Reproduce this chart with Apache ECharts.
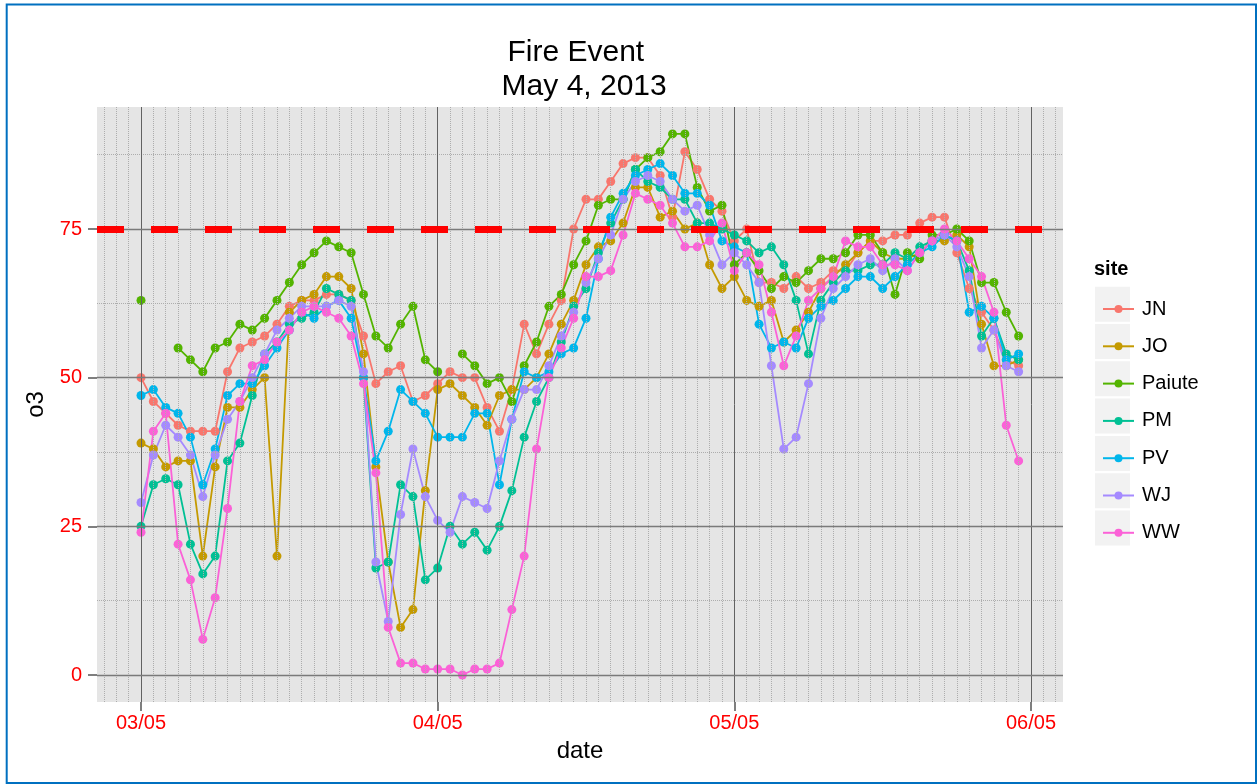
<!DOCTYPE html>
<html>
<head>
<meta charset="utf-8">
<title>Fire Event</title>
<script src="https://cdn.jsdelivr.net/npm/echarts@6/dist/echarts.min.js"></script>
<style>
    html, body { margin: 0; padding: 0; background: #fff; }
    #chart { width: 1257px; height: 784px; }
</style>
</head>
<body>
<div id="chart"></div>
<script>
(function() {
    'use strict';

    // hourly o3 per site, hour 0 = 03/05 00:00
    var sites = ['JN', 'JO', 'Paiute', 'PM', 'PV', 'WJ', 'WW'];
    var siteColors = ['#F8766D', '#C49A00', '#53B400', '#00C094', '#00B6EB', '#A58AFF', '#FB61D7'];

    var jn = [50, 46, 44, 42, 41, 41, 41, 51, 55, 56, 57, 59, 62, 63, 63, 64, 64, 63, 57, 49,
        51, 52, 46, 47, 49, 51, 50, 50, 45, 41, 48, 59, 54, 59, 63, 75, 80, 80, 83, 86,
        87, 87, 84, 77, 88, 85, 80, 78, 73, 75, 66, 66, 65, 67, 65, 66, 68, 68, 71, 73,
        73, 74, 74, 76, 77, 77, 71, 65, 61, 58, 53, 52];
    var jo = [39, 38, 35, 36, 36, 20, 35, 45, 45, 48, 50, 20, 61, 63, 64, 67, 67, 65, 54, 35,
        19, 8, 11, 31, 48, 49, 47, 45, 42, 47, 48, 48, 50, 54, 59, 63, 69, 72, 73, 76,
        82, 82, 77, 78, 75, 76, 69, 65, 67, 63, 62, 63, 56, 58, 61, 65, 67, 69, 71, 73,
        71, 70, 70, 71, 73, 73, 74, 72, 59, 52, 52, 53];
    var paiute = [63, null, null, 55, 53, 51, 55, 56, 59, 58, 60, 63, 66, 69, 71, 73, 72, 71, 64, 57,
        55, 59, 62, 53, 51, null, 54, 52, 49, 50, 46, 52, 56, 62, 64, 69, 73, 79, 80, 80,
        85, 87, 88, 91, 91, 82, 78, 79, 69, 71, 68, 65, 67, 66, 68, 70, 70, 71, 74, 74,
        71, 64, 71, 70, 74, 74, 75, 73, 66, 66, 61, 57];
    var pm = [25, 32, 33, 32, 22, 17, 20, 36, 39, 47, 54, 56, 59, 60, 61, 65, 64, 63, 50, 18,
        19, 32, 30, 16, 18, 25, 22, 24, 21, 25, 31, 40, 46, 50, 56, 62, 65, 71, 76, 80,
        85, 83, 82, 80, 80, 76, 76, 75, 74, 73, 71, 72, 69, 63, 54, 63, 66, 68, 68, 69,
        69, 71, 70, 72, 73, 74, 73, 68, 57, 60, 54, 53];
    var pv = [47, 48, 45, 44, 40, 32, 38, 47, 49, 49, 52, 55, 58, 61, 60, 62, 63, 60, 50, 36,
        41, 48, 46, 44, 40, 40, 40, 44, 44, 32, 43, 51, 50, 51, 54, 55, 60, 70, 77, 81,
        84, 85, 86, 84, 81, 81, 79, 73, 72, 71, 59, 55, 56, 55, 60, 62, 63, 65, 67, 67,
        65, 67, 69, 71, 72, 74, 73, 61, 62, 60, 53, 54];
    var wj = [29, 37, 42, 40, 37, 30, 37, 43, 46, 50, 54, 58, 60, 62, 62, 62, 63, 62, 51, 19,
        9, 27, 38, 30, 26, 24, 30, 29, 28, 36, 43, 48, 48, 52, 57, 61, 66, 70, 74, 80,
        83, 84, 83, 80, 78, 79, 74, 69, 71, 69, 66, 52, 38, 40, 49, 60, 65, 67, 69, 70,
        68, 70, 68, 71, 73, 74, 72, 67, 55, 58, 52, 51];
    var ww = [24, 41, 44, 22, 16, 6, 13, 28, 46, 52, 53, 56, 58, 61, 62, 61, 60, 57, 49, 34,
        8, 2, 2, 1, 1, 1, 0, 1, 1, 2, 11, 20, 38, 50, 55, 60, 67, 67, 68, 74,
        81, 80, 79, 76, 72, 72, 73, 76, 68, 71, 69, 61, 52, 57, 63, 65, 67, 73, 72, 72,
        69, 69, 68, 71, 73, 75, 73, 70, 67, 61, 42, 36];
    var siteValues = [jn, jo, paiute, pm, pv, wj, ww];

    var dayTicks = [0, 24, 48, 72];
    var dayLabels = ['03/05', '04/05', '05/05', '06/05'];
    var o3Ticks = [0, 25, 50, 75];
    var o3MinorTicks = [12.5, 37.5, 62.5, 87.5];
    var standard = 75;

    var font = 'Liberation Sans, Arial, sans-serif';

    // panel grid lines (ggplot style) as markLines
    var minorStyle = { color: '#adadad', width: 1, type: [1, 1] };
    var majorVStyle = { color: '#626262', width: 1, type: 'solid' };
    var majorHStyle = { color: '#7a7a7a', width: 1.3, type: 'solid' };
    var gridLines = [];
    for (var h = -3; h <= 74; h++) {
        if (dayTicks.indexOf(h) < 0) {
            gridLines.push({ xAxis: h, lineStyle: minorStyle });
        }
    }
    o3MinorTicks.forEach(function(v) {
        gridLines.push({ yAxis: v, lineStyle: minorStyle });
    });
    dayTicks.forEach(function(v) {
        gridLines.push({ xAxis: v, lineStyle: majorVStyle });
    });
    o3Ticks.forEach(function(v) {
        gridLines.push({ yAxis: v, lineStyle: majorHStyle });
    });

    var series = [{
        name: 'grid',
        type: 'line',
        data: [],
        silent: true,
        z: 1,
        markLine: {
            silent: true,
            symbol: ['none', 'none'],
            label: { show: false },
            emphasis: { disabled: true },
            animation: false,
            data: gridLines
        }
    }];

    for (var i = 0; i < sites.length; i++) {
        series.push({
            name: sites[i],
            type: 'line',
            z: 2,
            data: siteValues[i].map(function(v, hour) {
                return [hour, v];
            }),
            connectNulls: false,
            symbol: 'circle',
            symbolSize: 9,
            showAllSymbol: true,
            color: siteColors[i],
            lineStyle: { width: 1.8 },
            emphasis: { disabled: true },
            animation: false
        });
    }

    series.push({
        name: 'standard',
        type: 'line',
        data: [],
        silent: true,
        z: 5,
        markLine: {
            silent: true,
            symbol: ['none', 'none'],
            label: { show: false },
            emphasis: { disabled: true },
            animation: false,
            lineStyle: { color: '#ff0000', width: 7, type: [27, 27], cap: 'butt' },
            data: [{ yAxis: standard }]
        }
    });

    var keyBoxes = sites.map(function(s, k) {
        return {
            type: 'rect',
            shape: { x: 1095, y: 286.7 + k * 37.3, width: 35, height: 35 },
            style: { fill: '#f2f2f2' },
            silent: true
        };
    });
    keyBoxes.push({
        type: 'rect',
        shape: { x: 6.7, y: 4.5, width: 1249.3, height: 778.5 },
        style: { fill: 'none', stroke: '#0070C0', lineWidth: 2 },
        silent: true
    });

    var myChart = echarts.init(document.getElementById('chart'));
    var option = {
        animation: false,
        backgroundColor: '#ffffff',
        textStyle: { fontFamily: font },
        title: [{
            text: 'Fire Event \n May 4, 2013',
            left: 575,
            top: 31,
            textAlign: 'center',
            textStyle: { fontSize: 30, fontWeight: 'normal', lineHeight: 34, color: '#000', fontFamily: font }
        }, {
            text: 'site',
            left: 1089,
            top: 254,
            textStyle: { fontSize: 20, fontWeight: 'bold', color: '#000', fontFamily: font }
        }],
        legend: {
            data: sites,
            orient: 'vertical',
            left: 1097,
            top: 294,
            itemWidth: 31,
            itemHeight: 10,
            itemGap: 17.3,
            selectedMode: false,
            textStyle: { fontSize: 20, lineHeight: 20, color: '#000', fontFamily: font, padding: [0, 0, 0, 3] }
        },
        graphic: keyBoxes,
        grid: {
            left: 97,
            right: 194,
            top: 107,
            bottom: 82,
            show: true,
            backgroundColor: '#e5e5e5',
            borderWidth: 0,
            containLabel: false,
            outerBoundsMode: 'none'
        },
        xAxis: {
            type: 'value',
            min: -3.56,
            max: 74.59,
            name: 'date',
            nameLocation: 'middle',
            nameGap: 37,
            nameTextStyle: { fontSize: 24, color: '#000', fontFamily: font },
            axisLine: { show: false, onZero: false },
            axisTick: { show: true, customValues: dayTicks, length: 9, lineStyle: { color: '#7f7f7f', width: 2 } },
            axisLabel: {
                customValues: dayTicks,
                color: '#ff0000',
                fontSize: 20,
                margin: 11,
                fontFamily: font,
                formatter: function(v) {
                    return dayLabels[Math.round(v / 24)];
                }
            },
            splitLine: { show: false }
        },
        yAxis: {
            type: 'value',
            min: -4.54,
            max: 95.52,
            name: 'o3',
            nameLocation: 'middle',
            nameGap: 43,
            nameTextStyle: { fontSize: 24, color: '#000', fontFamily: font },
            axisLine: { show: false, onZero: false },
            axisTick: { show: true, customValues: o3Ticks, length: 9, lineStyle: { color: '#7f7f7f', width: 2 } },
            axisLabel: { customValues: o3Ticks, color: '#ff0000', fontSize: 20, margin: 15, fontFamily: font },
            splitLine: { show: false }
        },
        series: series
    };
    myChart.setOption(option);
})();
</script>
</body>
</html>
